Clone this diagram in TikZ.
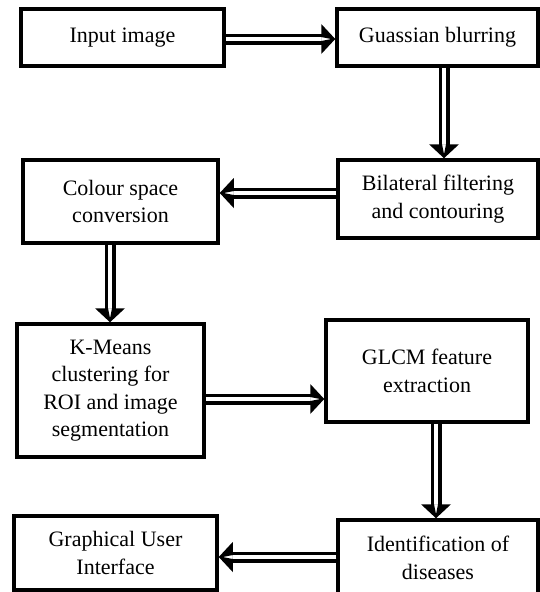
\documentclass[tikz,border=0pt]{standalone}
\usepackage{fontspec}
\setmainfont{Liberation Serif}
\usetikzlibrary{decorations.markings}

\begin{document}
\begin{tikzpicture}[x=1pt,y=-1pt,
  stage/.style={draw=black, line width=3.5pt, fill=white, align=center,
    inner sep=0pt, font=\fontsize{22}{27.5}\selectfont},
  % double shaft, stopped short of the target; the head is drawn as a
  % solid triangle whose open notch carries on the shaft's white gap
  flow/.style={double=white, line width=3.5pt, double distance=4pt,
    shorten >=13.5pt,
    postaction={decorate, decoration={markings, mark=at position 1 with {
      \fill[black, even odd rule]
        (0pt,0pt) -- (-14pt,15pt) -- (-14pt,-15pt) -- cycle
        (-4pt,0pt) -- (-14pt,-2pt) -- (-14pt,2pt) -- cycle;}}}}]
\useasboundingbox[fill=white] (0,0) rectangle (540,592);

% processing stages
\node[stage, minimum width=203pt, minimum height=57pt]  (b1) at (122.5,37.5) {Input image};
\node[stage, minimum width=201pt, minimum height=57pt]  (b2) at (437.5,37.5) {Guassian blurring};
\node[stage, minimum width=195pt, minimum height=83pt]  (b3) at (120.5,201.5) {Colour space\\conversion};
\node[stage, minimum width=200pt, minimum height=78pt]  (b4) at (438,199) {Bilateral filtering\\and contouring};
\node[stage, minimum width=187pt, minimum height=133pt] (b5) at (110.5,390.5) {K-Means\\clustering for\\ROI and image\\segmentation};
\node[stage, minimum width=202pt, minimum height=102pt] (b6) at (427,371) {GLCM feature\\extraction};
\node[stage, minimum width=203pt, minimum height=74pt]  (b7) at (115.5,553) {Graphical User\\Interface};
\node[stage, minimum width=200pt, minimum height=76pt]  (b8) at (438,558) {Identification of\\diseases};

% flow between stages
\draw[flow] ([yshift=-1.5pt]b1.east) -- ([yshift=-1.5pt]b2.west);
\draw[flow] ([xshift=6.5pt]b2.south) -- ([xshift=6pt]b4.north);
\draw[flow] ([yshift=6pt]b4.west) -- ([yshift=8.5pt]b3.east);
\draw[flow] ([xshift=-10.5pt]b3.south) -- ([xshift=-0.5pt]b5.north);
\draw[flow] ([yshift=-8.5pt]b5.east) -- ([yshift=-28pt]b6.west);
\draw[flow] ([xshift=9pt]b6.south) -- ([xshift=-2pt]b8.north);
\draw[flow] ([yshift=1pt]b8.west) -- ([yshift=-4pt]b7.east);
\end{tikzpicture}
\end{document}
